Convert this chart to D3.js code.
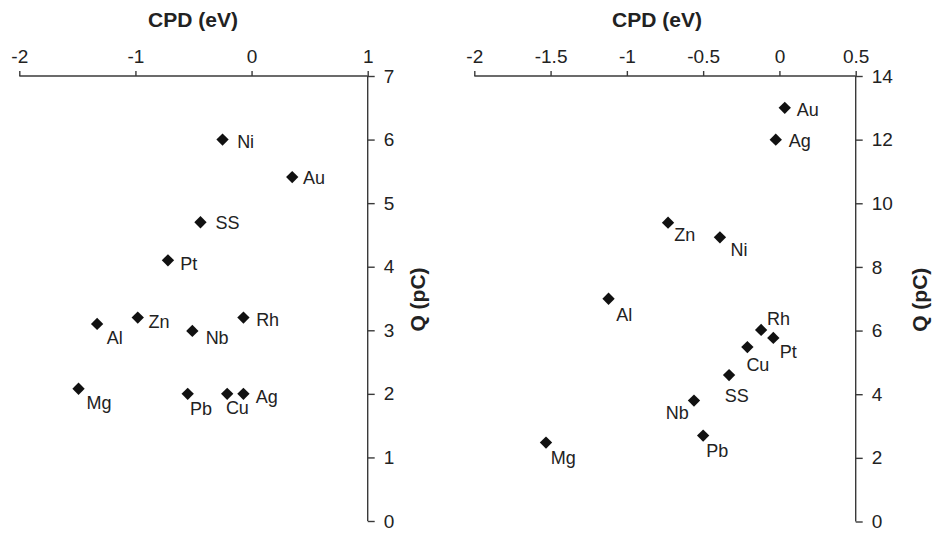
<!DOCTYPE html>
<html>
<head>
<meta charset="utf-8">
<script src="https://cdn.jsdelivr.net/npm/d3@7"></script>
<style>
  body { margin: 0; background: #fff; }
  svg { display: block; }
  text { font-family: "Liberation Sans", Arial, sans-serif; }
</style>
</head>
<body>
<svg id="chart" width="932" height="534"></svg>
<script>
// ---- Data ----
const leftMetals = ["Ni", "Au", "SS", "Pt", "Al", "Zn", "Nb", "Rh", "Mg", "Pb", "Cu", "Ag"];
const leftCPD    = [-0.25, 0.35, -0.44, -0.72, -1.33, -0.98, -0.51, -0.07, -1.49, -0.55, -0.21, -0.07];
const leftQ      = [6.0, 5.41, 4.70, 4.10, 3.10, 3.20, 2.99, 3.20, 2.08, 2.0, 2.0, 2.0];

const rightMetals = ["Au", "Ag", "Zn", "Ni", "Al", "Rh", "Pt", "Cu", "SS", "Nb", "Pb", "Mg"];
const rightCPD    = [0.035, -0.024, -0.73, -0.39, -1.12, -0.12, -0.04, -0.21, -0.33, -0.56, -0.50, -1.53];
const rightQ      = [13.0, 12.0, 9.39, 8.93, 7.0, 6.02, 5.77, 5.48, 4.60, 3.80, 2.70, 2.48];

const leftXTicks  = [-2, -1, 0, 1];
const leftYTicks  = [0, 1, 2, 3, 4, 5, 6, 7];
const rightXTicks = [-2, -1.5, -1, -0.5, 0, 0.5];
const rightYTicks = [0, 2, 4, 6, 8, 10, 12, 14];

const xTitle = "CPD (eV)";
const yTitle = "Q (pC)";

// ---- Label placement (pixel offsets from marker) ----
const leftLabelOffsets = {
  Ni: [14.6, 8.3], Au: [10.7, 7], SS: [15, 7], Pt: [12.3, 9.7],
  Al: [9.6, 20], Zn: [10.7, 10], Nb: [13.3, 13.3], Rh: [12.7, 8.4],
  Mg: [8, 20], Pb: [2.3, 21], Cu: [-1.3, 20], Ag: [12.3, 8.7]
};
const rightLabelOffsets = {
  Au: [12, 7.7], Ag: [13, 7.7], Zn: [6.3, 18.6], Ni: [10.6, 18.4],
  Al: [7.7, 22.6], Rh: [6, -5.3], Pt: [6.4, 20], Cu: [-1, 24.3],
  SS: [-4.3, 27.3], Nb: [-28.3, 18.3], Pb: [3, 21.6], Mg: [4.7, 21.6]
};

const svg = d3.select("#chart");
const axisColor = "#3a3a3a";
const textColor = "#222";

function panel(cfg) {
  const x = d3.scaleLinear().domain(cfg.xDomain).range(cfg.xRange);
  const y = d3.scaleLinear().domain(cfg.yDomain).range(cfg.yRange);
  const top = cfg.yRange[1];
  const right = cfg.xRange[1];

  const gx = svg.append("g").attr("transform", `translate(0,${top})`)
    .call(d3.axisTop(x).tickValues(cfg.xTicks).tickSize(5).tickPadding(8)
      .tickFormat(d => d3.format("")(d).replace("−", "-")));
  const gy = svg.append("g").attr("transform", `translate(${right},0)`)
    .call(d3.axisRight(y).tickValues(cfg.yTicks).tickSize(7).tickPadding(9)
      .tickFormat(d => String(d)));

  [gx, gy].forEach(g => {
    g.select(".domain").attr("stroke", axisColor).attr("stroke-width", 1.4);
    g.selectAll(".tick line").attr("stroke", axisColor).attr("stroke-width", 1.4);
    g.selectAll(".tick text").attr("fill", textColor)
      .style("font-size", "19px");
  });
  gx.select(".domain").attr("d", `M${cfg.xRange[0]},0H${right}`);
  gy.select(".domain").attr("d", `M0,${cfg.yRange[0]}V${top}`);

  svg.append("text")
    .attr("x", cfg.titleX).attr("y", 27)
    .attr("text-anchor", "middle")
    .attr("fill", textColor)
    .style("font-size", "21px").style("font-weight", "bold")
    .text(xTitle);

  svg.append("text")
    .attr("transform", `translate(${cfg.yTitleX},${(cfg.yRange[0] + top) / 2 + 1}) rotate(-90)`)
    .attr("text-anchor", "middle")
    .attr("dy", "0.35em")
    .attr("fill", textColor)
    .style("font-size", "21px").style("font-weight", "bold")
    .text(yTitle);

  const pts = cfg.metals.map((m, i) => ({ m, cx: x(cfg.cpd[i]), cy: y(cfg.q[i]) }));
  const sym = d3.symbol().type(d3.symbolSquare).size(76);
  svg.append("g").selectAll("path").data(pts).join("path")
    .attr("d", sym)
    .attr("transform", d => `translate(${d.cx},${d.cy}) rotate(45)`)
    .attr("fill", "#111");

  svg.append("g").selectAll("text").data(pts).join("text")
    .attr("x", d => d.cx + cfg.offsets[d.m][0])
    .attr("y", d => d.cy + cfg.offsets[d.m][1])
    .attr("fill", textColor)
    .style("font-size", "18px")
    .text(d => d.m);
}

panel({
  xDomain: [-2, 1], xRange: [19.3, 367.7],
  yDomain: [0, 7], yRange: [521, 76],
  xTicks: leftXTicks, yTicks: leftYTicks,
  metals: leftMetals, cpd: leftCPD, q: leftQ,
  offsets: leftLabelOffsets, titleX: 193, yTitleX: 418
});

panel({
  xDomain: [-2, 0.5], xRange: [474.3, 855.7],
  yDomain: [0, 14], yRange: [521.5, 76],
  xTicks: rightXTicks, yTicks: rightYTicks,
  metals: rightMetals, cpd: rightCPD, q: rightQ,
  offsets: rightLabelOffsets, titleX: 657, yTitleX: 920
});
</script>
</body>
</html>
